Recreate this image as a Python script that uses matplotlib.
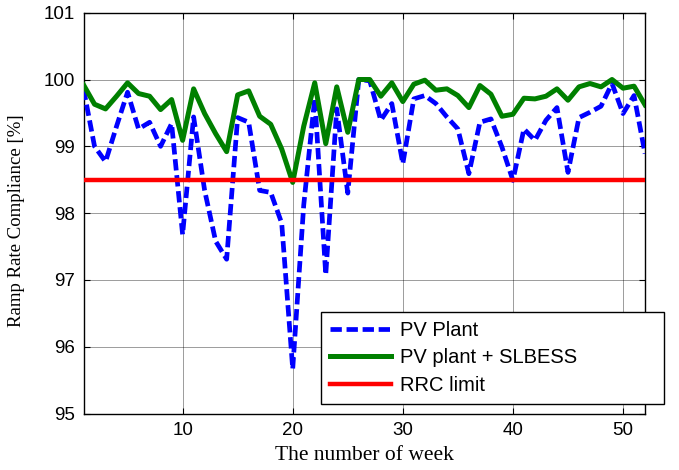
import matplotlib
matplotlib.use('Agg')
import matplotlib.pyplot as plt
import numpy as np

# weekly ramp rate compliance [%]
weeks = np.arange(1, 53)

pv_plant = [99.86, 99.00, 98.77, 99.30, 99.81, 99.26, 99.36, 99.00, 99.34, 97.68,
            99.44, 98.34, 97.58, 97.31, 99.43, 99.36, 98.34, 98.31, 97.85, 95.67,
            98.12, 99.72, 97.08, 99.56, 98.30, 100.00, 99.98, 99.39, 99.64, 98.74,
            99.71, 99.76, 99.64, 99.44, 99.26, 98.59, 99.36, 99.41, 98.99, 98.49,
            99.26, 99.09, 99.39, 99.58, 98.61, 99.43, 99.51, 99.60, 99.94, 99.49,
            99.76, 98.89]

pv_slbess = [99.92, 99.63, 99.56, 99.75, 99.95, 99.79, 99.75, 99.55, 99.70, 99.09,
             99.86, 99.49, 99.19, 98.92, 99.77, 99.83, 99.45, 99.33, 98.96, 98.46,
             99.30, 99.95, 99.04, 99.89, 99.21, 100.00, 100.00, 99.75, 99.95, 99.67,
             99.93, 99.99, 99.84, 99.86, 99.76, 99.58, 99.91, 99.78, 99.45, 99.48,
             99.72, 99.71, 99.75, 99.86, 99.69, 99.89, 99.94, 99.89, 100.00, 99.87,
             99.90, 99.62]

rrc_limit = 98.5

x_ticks = [10, 20, 30, 40, 50]
y_ticks = [95, 96, 97, 98, 99, 100, 101]

fig = plt.figure(figsize=(6.79, 4.70), dpi=100)
fig.patch.set_facecolor('#ffffff')
ax = fig.add_axes([0.123, 0.120, 0.827, 0.853])

ax.plot(weeks, pv_plant, color='#0000ff', linewidth=3.4,
        linestyle=(0, (2.4, 1.0)), label='PV Plant', zorder=3)
ax.plot(weeks, pv_slbess, color='#008000', linewidth=3.6,
        label='PV plant + SLBESS', zorder=4)
ax.plot(weeks, np.full(len(weeks), rrc_limit), color='#ff0000',
        linewidth=3.2, label='RRC limit', zorder=5)

ax.set_xlim(1, 52)
ax.set_ylim(95, 101)
ax.set_xticks(x_ticks)
ax.set_yticks(y_ticks)

ax.grid(True, color='k', linewidth=0.6, alpha=0.45)
ax.tick_params(direction='in', top=True, right=True, length=4,
               labelsize=13.5, pad=6)
for lbl in ax.get_xticklabels() + ax.get_yticklabels():
    lbl.set_family('Liberation Sans')
for sp in ax.spines.values():
    sp.set_linewidth(1.0)

ax.set_xlabel('The number of week', family='Liberation Serif', size=15.5,
              labelpad=5)
ax.set_ylabel('Ramp Rate Compliance [%]', family='Liberation Serif', size=13.5,
              labelpad=6)
ax.yaxis.set_label_coords(-0.105, 0.48)

leg = ax.legend(loc='lower left', bbox_to_anchor=(0.423, 0.024, 0.611, 0.22),
                mode='expand', borderaxespad=0, fancybox=False,
                prop={'family': 'Liberation Sans', 'size': 14.5},
                handlelength=3.0, handletextpad=0.45, labelspacing=0.42,
                borderpad=0.45, framealpha=1)
leg.get_frame().set_edgecolor('k')
leg.get_frame().set_linewidth(1.0)
leg.set_zorder(10)

fig.savefig('out.png', dpi=100)
